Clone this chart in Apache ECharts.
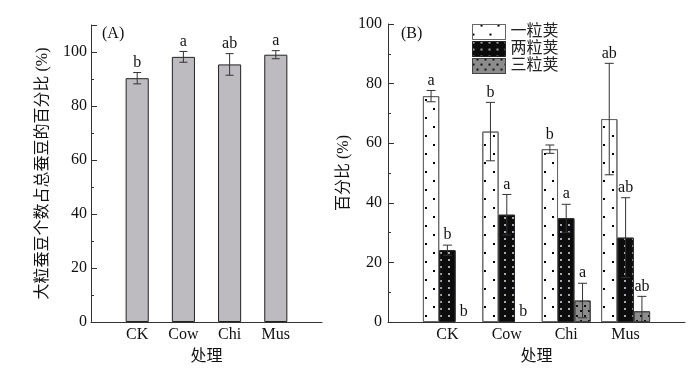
<!DOCTYPE html>
<html><head><meta charset="utf-8">
<script src="https://cdn.jsdelivr.net/npm/echarts@6/dist/echarts.min.js"></script>
<style>html,body{margin:0;padding:0;background:#fff}#c{width:697px;height:373px}</style>
</head><body><div id="c"></div>
<script>
const categories = ['CK', 'Cow', 'Chi', 'Mus'];
const largeShare = [90.3, 98.2, 95.4, 99.0];
const largeShareErr = [2.1, 2.0, 4.0, 1.5];
const largeShareSig = ['b', 'a', 'ab', 'a'];
const podTypes = ['一粒荚', '两粒荚', '三粒荚'];
const onePod = [75.8, 63.9, 58.0, 68.1];
const onePodErr = [1.9, 9.8, 1.4, 18.7];
const onePodSig = ['a', 'b', 'b', 'ab'];
const twoPod = [24.1, 36.0, 34.8, 28.3];
const twoPodErr = [1.7, 6.8, 4.7, 13.4];
const twoPodSig = ['b', 'a', 'a', 'ab'];
const threePod = [0, 0, 7.2, 3.6];
const threePodErr = [0, 0, 5.8, 5.0];
const threePodSig = ['b', 'b', 'a', 'ab'];
const yMaxA = 110, yMaxB = 100, yStep = 20;

const FONT = "'Liberation Serif', 'Noto Sans CJK SC', serif";
const AX = '#333';
const axisCats = [''].concat(categories).concat(['']);
const padded = arr => ['-'].concat(arr.map(v => v === 0 ? '-' : v)).concat(['-']);

function errSeries(values, errs, sigs, offsetFrac, capHalf, xi) {
  return {
    type: 'custom', xAxisIndex: xi, yAxisIndex: xi, z: 10, silent: true,
    data: values.map((v, i) => [i + 1, v, errs[i]]),
    renderItem: function (params, api) {
      const x = api.value(0), v = api.value(1), e = api.value(2);
      const band = api.size([1, 0])[0];
      const top = api.coord([x, v + e]);
      const bot = api.coord([x, Math.max(v - e, 0)]);
      const cx = top[0] + offsetFrac * band;
      const ch = [];
      if (e > 0) {
        ch.push({ type: 'line', shape: { x1: cx, y1: top[1], x2: cx, y2: bot[1] }, style: { stroke: AX, lineWidth: 1 } });
        ch.push({ type: 'line', shape: { x1: cx - capHalf, y1: top[1], x2: cx + capHalf, y2: top[1] }, style: { stroke: AX, lineWidth: 1 } });
        ch.push({ type: 'line', shape: { x1: cx - capHalf, y1: bot[1], x2: cx + capHalf, y2: bot[1] }, style: { stroke: AX, lineWidth: 1 } });
      }
      ch.push({ type: 'text', style: { text: sigs[params.dataIndex], x: cx, y: top[1] - 2, align: 'center', verticalAlign: 'bottom', font: '16px ' + FONT, fill: '#111' } });
      return { type: 'group', children: ch };
    }
  };
}

function yAxisCfg(gi, max, name, gap, lblMargin) {
  return {
    type: 'value', gridIndex: gi, min: 0, max: max, interval: yStep,
    name: name, nameLocation: 'middle', nameGap: gap, nameRotate: 90,
    nameTextStyle: { fontFamily: FONT, fontSize: 16, color: '#111' },
    axisLine: { show: true, lineStyle: { color: AX, width: 1 } },
    axisTick: { show: true, inside: true, length: 6, lineStyle: { color: AX } },
    minorTick: { show: true, splitNumber: 2, length: 3, lineStyle: { color: AX } },
    axisLabel: { fontFamily: FONT, fontSize: 16, color: '#111', margin: lblMargin, showMaxLabel: max === 100 },
    splitLine: { show: false }
  };
}
function xAxisCfg(gi) {
  return {
    type: 'category', gridIndex: gi, data: axisCats, boundaryGap: false,
    name: '处理', nameLocation: 'middle', nameGap: 27,
    nameTextStyle: { fontFamily: FONT, fontSize: 16, color: '#111' },
    axisLine: { show: true, lineStyle: { color: AX, width: 1 } },
    axisTick: { show: false },
    axisLabel: { fontFamily: FONT, fontSize: 16, color: '#111', margin: 5, interval: 0 },
    splitLine: { show: false }
  };
}

const decalOne = { symbol: 'rect', symbolSize: 1, color: '#000', dashArrayX: [[1.5, 14.5], [0, 8, 1.5, 6.5]], dashArrayY: [1.5, 6.5] };
const decalTwo = { symbol: 'rect', symbolSize: 1, color: '#a8a8b4', dashArrayX: [1.5, 5.5], dashArrayY: [1.5, 4.5] };
const decalThree = { symbol: 'rect', symbolSize: 1, color: '#111', dashArrayX: [[1.5, 5.5], [0, 3.5, 1.5, 2]], dashArrayY: [1.5, 2.5] };
const styleOne = { color: '#fff', borderColor: '#666', borderWidth: 1, decal: decalOne };
const styleTwo = { color: '#0c0c0c', borderColor: '#222', borderWidth: 1, decal: decalTwo };
const styleThree = { color: '#8c8c8c', borderColor: '#444', borderWidth: 1, decal: decalThree };

const chart = echarts.init(document.getElementById('c'), null, { renderer: 'canvas' });
chart.setOption({
  animation: false,
  backgroundColor: '#fff',
  grid: [
    { left: 91, top: 25, width: 231, height: 297 },
    { left: 388, top: 24, width: 297, height: 298 }
  ],
  xAxis: [xAxisCfg(0), xAxisCfg(1)],
  yAxis: [
    yAxisCfg(0, yMaxA, '大粒蚕豆个数占总蚕豆的百分比 (%)', 40, 4),
    yAxisCfg(1, yMaxB, '百分比 (%)', 36, 6)
  ],
  legend: {
    orient: 'vertical', left: 467, top: 19, itemWidth: 33, itemHeight: 15, itemGap: 1,
    icon: 'rect',
    data: [
      { name: podTypes[0], itemStyle: styleOne },
      { name: podTypes[1], itemStyle: styleTwo },
      { name: podTypes[2], itemStyle: styleThree }
    ],
    textStyle: { fontFamily: FONT, fontSize: 16, color: '#222' }
  },
  graphic: [
    { type: 'text', left: 102, top: 26, style: { text: '(A)', font: '16px ' + FONT, fill: '#111' } },
    { type: 'text', left: 401, top: 26, style: { text: '(B)', font: '16px ' + FONT, fill: '#111' } }
  ],
  series: [
    { type: 'bar', xAxisIndex: 0, yAxisIndex: 0, data: padded(largeShare), barWidth: '50%',
      itemStyle: { color: '#bdbbc0', borderColor: '#222', borderWidth: 1 } },
    errSeries(largeShare, largeShareErr, largeShareSig, 0, 4, 0),
    { name: podTypes[0], type: 'bar', xAxisIndex: 1, yAxisIndex: 1, data: padded(onePod), barWidth: '27.5%', barGap: '0%', itemStyle: styleOne },
    { name: podTypes[1], type: 'bar', xAxisIndex: 1, yAxisIndex: 1, data: padded(twoPod), barWidth: '27.5%', barGap: '0%', itemStyle: styleTwo },
    { name: podTypes[2], type: 'bar', xAxisIndex: 1, yAxisIndex: 1, data: padded(threePod), barWidth: '27.5%', barGap: '0%', itemStyle: styleThree },
    errSeries(onePod, onePodErr, onePodSig, -0.275, 4.5, 1),
    errSeries(twoPod, twoPodErr, twoPodSig, 0, 4.5, 1),
    errSeries(threePod, threePodErr, threePodSig, 0.275, 4.5, 1)
  ]
});
</script>
</body></html>
